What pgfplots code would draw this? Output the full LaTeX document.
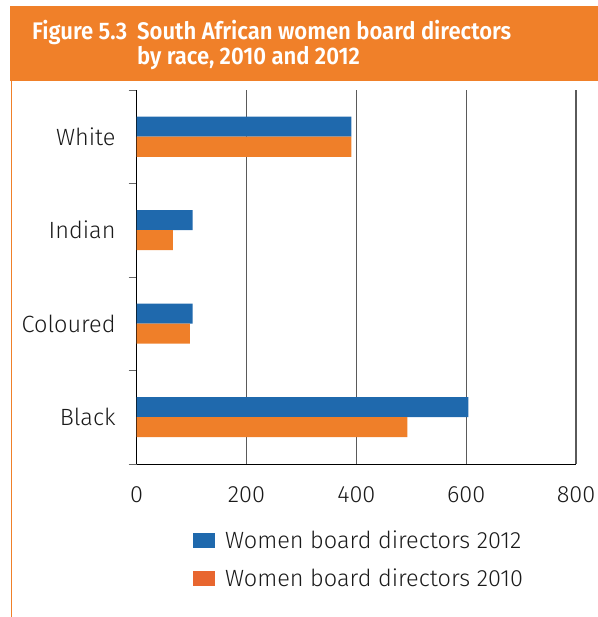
\documentclass[border=0pt]{standalone}
\usepackage{fontspec}
\setmainfont{Fira Sans}[UprightFont={* Light}, BoldFont={* SemiBold}]
\usepackage{pgfplots}
\pgfplotsset{compat=1.18}
\definecolor{barblue}{HTML}{1F69AD}
\definecolor{barorange}{HTML}{EF7F29}
\definecolor{legorange}{HTML}{E8662F}
\definecolor{banner}{HTML}{F08029}
\definecolor{txt}{HTML}{1A1A1A}
\definecolor{gridgray}{HTML}{5A5A5A}
\begin{document}
\begin{tikzpicture}
\useasboundingbox (0,0) rectangle (598bp,617bp);
\fill[banner] (10bp,536.3bp) rectangle (598bp,611bp);
\draw[banner, line width=1.2bp] (11.5bp,0bp) -- (11.5bp,536.5bp);
\begin{scope}[every node/.style={inner sep=0pt, text=white, xscale=0.92, transform shape, font=\fontsize{24bp}{28bp}\selectfont\bfseries}]
\node[anchor=base west] at (32bp,577bp) {Figure 5.3};
\node[anchor=base west] at (137bp,577bp) {South African women board directors};
\node[anchor=base west] at (137bp,552bp) {by race, 2010 and 2012};
\end{scope}
\begin{axis}[
  at={(136.7bp,153bp)}, anchor=south west,
  scale only axis, width=439.3bp, height=374bp,
  xbar, bar width=20bp,
  xmin=0, xmax=800, ymin=-0.5, ymax=3.5,
  axis x line=bottom, axis y line=left,
  axis line style={-, black, line width=0.9bp},
  xtick={0,200,400,600,800},
  ytick={0,1,2,3},
  yticklabels={Black,Coloured,Indian,White},
  minor ytick={-0.5,0.5,1.5,2.5,3.5},
  major tick length=0pt,
  minor tick length=8bp,
  xtick style={draw=none},
  extra x ticks={0,200,400,600,800},
  extra x tick labels={},
  extra x tick style={major tick length=8bp, tick style={draw=black, line width=0.8bp}, grid=none},
  minor tick style={draw=gray!80!black, line width=0.9bp},
  tick align=outside,
  xmajorgrids,
  major grid style={gridgray, line width=1.3bp},
  /pgf/number format/assume math mode=true,
  tick label style={font=\fontsize{23.5bp}{28bp}\selectfont, text=txt, inner sep=0pt},
  yticklabel style={xshift=-21bp},
  xticklabel style={yshift=-22bp},
  legend style={at={(0.128,-0.178)}, anchor=north west, draw=none, fill=none,
    font=\fontsize{23.5bp}{28bp}\selectfont, text=txt,
    row sep=19bp, inner sep=0pt,
    nodes={inner sep=0pt, anchor=west}},
  legend cell align=left,
  legend image code/.code={\fill[#1] (0bp,-7.5bp) rectangle (22bp,7.5bp);},
]
\addplot+[draw=none, fill=barblue, bar shift=10bp] coordinates {(604,0) (102,1) (102,2) (391,3)};
\addlegendentry{\hspace{10bp}Women board directors 2012}
\addplot+[draw=none, fill=barorange, bar shift=-10bp, legend image code/.code={\fill[legorange] (0bp,-7.5bp) rectangle (22bp,7.5bp);}] coordinates {(493,0) (97,1) (66,2) (391,3)};
\addlegendentry{\hspace{10bp}Women board directors 2010}
\end{axis}
\end{tikzpicture}
\end{document}
